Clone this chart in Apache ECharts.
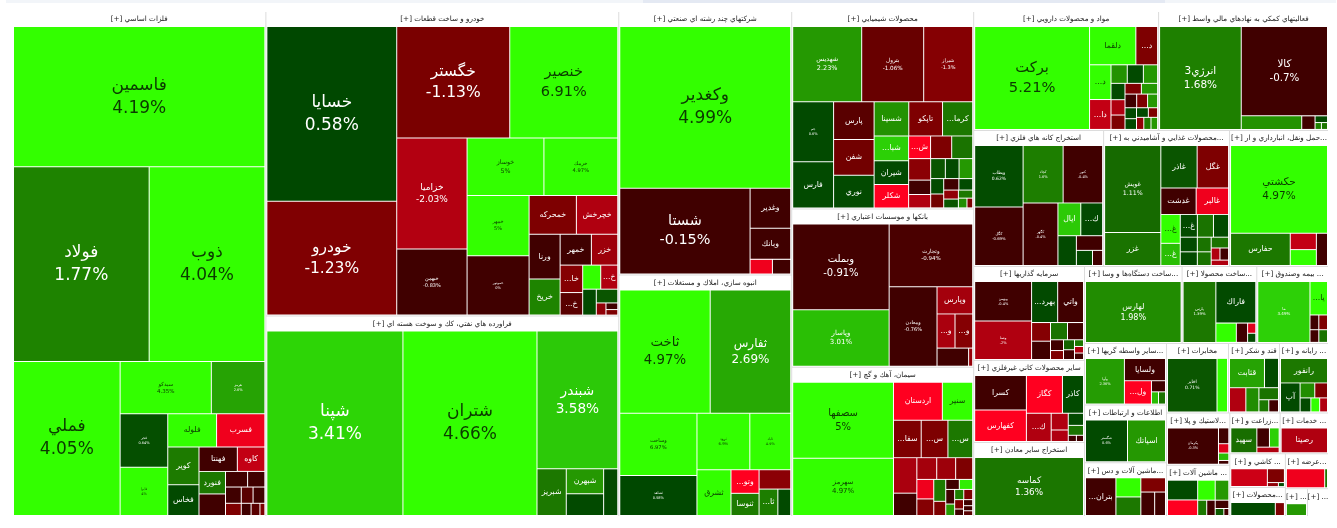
<!DOCTYPE html>
<html><head><meta charset="utf-8">
<style>html,body{margin:0;padding:0;background:#fff}#c{width:1337px;height:528px}</style>
<script src="https://cdn.jsdelivr.net/npm/echarts@6/dist/echarts.min.js"></script>
</head><body><div id="c"></div>
<script>
// Sector headers and footprint (relative area, header included)
const sectorNames = ['فلزات اساسي','خودرو و ساخت قطعات','فراورده هاي نفتي، كك و سوخت هسته اي','شركتهاي چند رشته اي صنعتي','انبوه سازي، املاك و مستغلات','محصولات شيميايي','بانكها و موسسات اعتباري','سيمان، آهك و گچ','مواد و محصولات دارويي','فعاليتهاي كمكي به نهادهاي مالي واسط','استخراج كانه هاي فلزي','...محصولات غذايي و آشاميدني به','...حمل ونقل، انبارداري و ار','سرمايه گذاريها','ساير محصولات كاني غيرفلزي','استخراج ساير معادن','...ساخت دستگاه‌ها و وسا','...ساخت محصولا','... بيمه وصندوق','...ساير واسطه گريها','اطلاعات و ارتباطات','...ماشين آلات و دس','مخابرات','قند و شكر','... رايانه و','...لاستيك و پلا','... ماشين آلات','...زراعت و','... خدمات','... كاشي و','...محصولات','...عرضه','...','...'];
const sectorValues = [127008,106704,70200,45236,41452,35657,28598,26969,21830,20060,17550,17010,13365,10340,9020,8140,7448,5700,5472,5022,4698,4374,4278,3519,3381,3286,3224,2040,1960,1870,1595,1496,609,580];

const metalsNames = ['فاسمين','فولاد','ذوب','فملي','سيدكو','هرمز','فجر','فايرا','فلوله','فسرب','كوير','فخاس','فهنتا','كاوه','فنورد','فمراد','','','','','','','','',''];
const metalsValues = [35280,26384,22504,16430,4784,2808,2538,2303,1617,1600,1178,961,936,672,598,572,345,270,256,192,192,192,120,108,60];
const metalsChanges = [4.19,1.77,4.04,4.05,4.35,2.6,0.64,4,4,-3,1.5,0.6,-0.4,-2.2,1.4,-0.3,-0.4,-0.4,-0.5,-0.7,-1,-1.2,-0.8,-1,-1.2];

const autoNames = ['خسايا','خودرو','خگستر','خنصير','خزاميا','خبهمن','خوساز','خريبك','خمهر','خموتور','خمحركه','خچرخش','ورنا','خريخ','خمهر','خزر','خا...','خ...','','خ...','','','','',''];
const autoValues = [22575,14706,12543,11988,7770,4620,4389,4218,3720,3660,1824,1596,1380,1116,960,810,616,506,432,408,351,294,117,78,65];
const autoChanges = [0.58,-1.23,-1.13,6.91,-2.03,-0.83,5,4.97,5,0,-1.2,-2,-0.4,1.8,-0.4,-1.7,-1.3,-1,4.5,-2,0.6,0.7,-1.5,-0.3,-1.2];

const oilNames = ['شپنا','شتران','شبندر','شبريز','شبهرن','شسپا',''];
const oilValues = [25024,24656,11097,1363,925,814,658];
const oilChanges = [3.41,4.66,3.58,1.4,2.2,0.6,0.6];

const multiNames = ['وكغدير','شستا','وغدير','وبانك','',''];
const multiValues = [27864,11266,1640,1271,330,270];
const multiChanges = [4.99,-0.15,-0.3,-0.4,-3,-0.4];

const buildNames = ['ثاخت','ثفارس','وساخت','ثشاهد','ثرود','ثاباد','ثشرق','وتو...','ثنوسا','ثمسكن','ثا...',''];
const buildValues = [11102,9882,4774,3080,2968,2296,1551,660,620,610,494,338];
const buildChanges = [4.97,2.69,6.97,0.58,6.9,4.9,4.9,-3.5,1.5,-1.4,1.6,0.6];

const chemNames = ['شهديس','بترول','شيراز','جم','فارس','پارس','شفن','نوري','شسينا','تاپكو','كرما...','شبا...','شيران','شكلر','ش...','','','قرن','','','و...','','','','','','','','','','',''];
const chemValues = [5037,4526,3577,2379,1833,1482,1404,1287,1150,1120,1000,830,800,780,483,465,462,460,308,286,285,266,264,195,176,169,154,128,126,112,81,54];
const chemChanges = [2.23,-1.06,-1.3,0.6,0.6,-1,-1.1,0.6,2.1,-1.2,1.4,3.3,0.6,-3.5,-3.5,-1.2,1.3,-1.4,-0.4,-2,0.7,0.6,2.2,0.6,-1.1,-0.3,0.6,-1.5,0.7,1.4,2,-1.2];

const bankNames = ['وبملت','وپاسار','وتجارت','ومعادن','وپارس','و...','و...','ونوين',''];
const bankValues = [8075,5320,5124,3713,945,600,590,558,72];
const bankChanges = [-0.91,3.01,-0.94,-0.76,-1.8,-1.9,-1.3,-0.4,-1.6];

const cementNames = ['سصفها','سهرمز','اردستان','سنير','سفا...','س...','س...','','','','','','','','','','','','','','','','','','','',''];
const cementValues = [7448,5586,1800,1116,1008,972,900,805,506,420,400,360,320,272,255,165,132,130,126,99,90,88,81,56,54,45,42];
const cementChanges = [5,4.97,-3.5,4.6,-1.2,-1.2,1.4,-1.9,-0.4,-1.8,-1.7,-1.2,-3,-1.3,1.5,-1.2,-0.4,3.8,-0.4,2.3,1.6,-1.2,-1.2,-0.4,-0.4,-0.4,-1];

const pharmaNames = ['بركت','دلقما','د...','د...','دا...','د...','د...','','','','','','','','','','','','','','','',''];
const pharmaValues = [11433,1715,805,720,620,292,289,255,221,208,195,170,168,154,144,132,122,120,110,86,85,84,77];
const pharmaChanges = [5.21,4.4,-1.2,4.2,-2.2,2.1,0.6,2.2,0.6,-2,-1.2,-1.2,2.2,-0.4,-1.2,2.2,0.6,0.6,0.6,-1.2,-1.5,1.6,2.2];

const finNames = ['انرژي3','كالا','','','','',''];
const finValues = [8446,7743,826,182,84,44,42];
const finChanges = [1.68,-0.7,2.1,-0.3,0.6,1.7,1.4];

const oreNames = ['وبطاب','كگل','كچاد','كنور','كگهر','ايال','ك...','','','',''];
const oreValues = [2928,2784,2260,2230,2142,736,704,540,378,240,150];
const oreChanges = [0.62,-0.69,1.6,-0.4,-0.4,3.2,0.6,0.6,-0.4,0.6,-0.4];

const foodNames = ['غويش','غزر','غاذر','غگل','غدشت','غالبر','غ...','غ...','غ...','','','','','','','','','',''];
const foodValues = [4698,1782,1480,1280,900,825,540,414,374,352,330,240,224,195,182,180,102,100,90];
const foodChanges = [1.11,1.3,0.7,-1.2,-0.4,-3,4.2,3,0.6,1.3,0.6,0.6,0.6,1.3,1.3,1.3,-2,-0.4,-2];

const transportNames = ['حكشتي','حفارس','','',''];
const transportValues = [8613,1947,432,420,363];
const transportChanges = [4.97,1.4,-2.2,4.3,-0.4];

const investNames = ['وبهمن','وصنا','بهرد...','واتي','و...','و...','','','','','','','','',''];
const investValues = [2090,2035,995,985,328,322,272,256,130,108,102,100,56,55,54];
const investChanges = [-0.4,-2,0.6,-0.4,-1.3,-0.4,1.3,-0.4,-0.4,-1.2,1,-0.4,1.4,-2,-0.4];

const mineralNames = ['كسرا','كفهارس','كگاز','كاذر','ك...','','','','','',''];
const mineralValues = [1700,1550,1296,756,667,272,187,176,144,48,42];
const mineralChanges = [-0.4,-3.5,-3.5,0.6,-2,-2,-2,0.6,1.3,-0.4,-0.4];

const otherMinesNames = ['كماسه'];
const otherMinesValues = [6270];
const otherMinesChanges = [1.36];

const deviceNames = ['لهارس'];
const deviceValues = [5880];
const deviceChanges = [1.98];

const productNames = ['پارس','فاراك','','','',''];
const productValues = [1920,1600,380,209,80,72];
const productChanges = [1.39,0.6,4.2,-0.4,-2.5,0.6];

const insuranceNames = ['ما','يا...','','','',''];
const insuranceValues = [3120,576,128,126,110,108];
const insuranceChanges = [3.49,4.3,-0.4,-1.2,-0.4,1.3];

const brokerNames = ['وآوا','ولسايا','ول...','','',''];
const brokerValues = [1748,902,621,154,85,84];
const brokerChanges = [2.36,-0.4,-3.5,-0.4,3,1.3];

const ictNames = ['شگستر','اسياتك'];
const ictValues = [1764,1596];
const ictChanges = [0.6,2.2];

const machinery1Names = ['بتران...','بكاب','بنيرو','','',''];
const machinery1Values = [1140,475,460,350,322,253];
const machinery1Changes = [-0.4,4,1.4,-1.2,-0.4,-0.5];

const telecomNames = ['اخابر',''];
const telecomValues = [2756,583];
const telecomChanges = [0.71,4];

const sugarNames = ['قثابت','','','','','',''];
const sugarValues = [972,390,375,300,224,114,112];
const sugarChanges = [2.6,0.6,-2,2,1.3,1.4,-0.4];

const computerNames = ['رانفور','آپ','','','','',''];
const computerValues = [1176,580,225,195,154,126,112];
const computerChanges = [1.4,0.6,2,-1.2,0.6,4,-2];

const rubberNames = ['پكرمان','','','',''];
const rubberValues = [1924,170,100,80,40];
const rubberChanges = [-0.3,-0.4,-2.5,3,-0.4];

const machinery2Names = ['وتو...','','','','','','','',''];
const machinery2Values = [551,435,324,252,128,120,105,56,32];
const machinery2Changes = [0.6,-3.5,4.2,2.2,1.4,-0.4,-0.4,0.8,-0.8];

const farmNames = ['سهيد','','',''];
const farmValues = [624,234,180,120];
const farmChanges = [1.2,-0.4,3.3,-2];

const servicesNames = ['رصيتا'];
const servicesValues = [1176];
const servicesChanges = [-2];

const tilesNames = ['كترام','','',''];
const tilesValues = [648,234,44,24];
const tilesChanges = [-2.3,-1.2,-1.5,0.6];

const productsNames = ['',''];
const productsValues = [572,117];
const productsChanges = [0.6,-1.2];

const supplyNames = ['ونيرو',''];
const supplyValues = [738,54];
const supplyChanges = [-3,1.4];

const lastANames = [''];
const lastAValues = [260];
const lastAChanges = [2.2];

const lastBNames = ['','',''];
const lastBValues = [130,68,66];
const lastBChanges = [null,null,null];

const sectorLeaves = [
  [metalsNames,metalsValues,metalsChanges],[autoNames,autoValues,autoChanges],[oilNames,oilValues,oilChanges],
  [multiNames,multiValues,multiChanges],[buildNames,buildValues,buildChanges],[chemNames,chemValues,chemChanges],
  [bankNames,bankValues,bankChanges],[cementNames,cementValues,cementChanges],[pharmaNames,pharmaValues,pharmaChanges],
  [finNames,finValues,finChanges],[oreNames,oreValues,oreChanges],[foodNames,foodValues,foodChanges],
  [transportNames,transportValues,transportChanges],[investNames,investValues,investChanges],[mineralNames,mineralValues,mineralChanges],
  [otherMinesNames,otherMinesValues,otherMinesChanges],[deviceNames,deviceValues,deviceChanges],[productNames,productValues,productChanges],
  [insuranceNames,insuranceValues,insuranceChanges],[brokerNames,brokerValues,brokerChanges],[ictNames,ictValues,ictChanges],
  [machinery1Names,machinery1Values,machinery1Changes],[telecomNames,telecomValues,telecomChanges],[sugarNames,sugarValues,sugarChanges],
  [computerNames,computerValues,computerChanges],[rubberNames,rubberValues,rubberChanges],[machinery2Names,machinery2Values,machinery2Changes],
  [farmNames,farmValues,farmChanges],[servicesNames,servicesValues,servicesChanges],[tilesNames,tilesValues,tilesChanges],
  [productsNames,productsValues,productsChanges],[supplyNames,supplyValues,supplyChanges],[lastANames,lastAValues,lastAChanges],[lastBNames,lastBValues,lastBChanges]
];

// Label type sizes: tiles that print the percentage too (style table, not data)
const pctLabelSizes = {'فاسمين':17,'فولاد':17,'ذوب':17,'فملي':17,'خسايا':17,'خودرو':15.5,'خگستر':15.5,'خنصير':14.5,'شپنا':17,'شتران':17,'شبندر':13.7,'وكغدير':17,'شستا':14.4,'ثاخت':13.3,'ثفارس':12,'بركت':14.7,'انرژي3':10.5,'كالا':10.3,'حكشتي':10.5,'وبملت':10,'سصفها':10,'خزاميا':9,'لهارس':8,'كماسه':8.8,'وپاسار':7,'سهرمز':7,'غويش':6.3,'شهديس':6.5,'بترول':5.7,'خوساز':6.3,'خريبك':5.2,'خمهر':5,'سيدكو':5.5,'هرمز':3.5,'فجر':3.5,'فايرا':3.5,'خبهمن':5,'خموتور':3.5,'وساخت':5.2,'ثشاهد':3.5,'ثرود':3.8,'ثاباد':3.5,'جم':3.5,'شيراز':5,'وتجارت':5.5,'ومعادن':5,'وبطاب':4.5,'كگل':3.8,'كچاد':3.5,'كنور':3.5,'كگهر':3.5,'وبهمن':3.5,'وصنا':3.5,'پارس':3.8,'ما':4,'وآوا':3.5,'شگستر':3.5,'اخابر':4.5,'پكرمان':3.5};
const doubles = {'خمهر':1}; // the second خمهر tile is a name-only label
const nameOnlySectors = {5:1}; // chemicals' پارس tile prints its name only

const anchors = [[5,[51,255,0]],[3.9,[51,255,0]],[3.6,[44,200,8]],[3.4,[45,214,6]],[3,[42,190,5]],[2.6,[38,163,4]],[2.2,[37,152,2]],[1.9,[31,135,0]],[1.4,[28,120,0]],[1,[20,100,0]],[0.7,[10,85,0]],[0.58,[0,72,0]],[0.01,[0,68,0]],[0,[64,0,0]],[-0.9,[64,0,0]],[-1.13,[122,0,0]],[-2,[176,0,16]],[-2.5,[224,0,26]],[-3.5,[255,0,32]]];
function tileColor(p){
  if(p===null) return '#ffffff';
  if(p>=anchors[0][0]) return 'rgb('+anchors[0][1].join(',')+')';
  for(let i=1;i<anchors.length;i++){
    const a=anchors[i-1],b=anchors[i];
    if(p>=b[0]){const t=(p-b[0])/(a[0]-b[0]);return 'rgb('+[0,1,2].map(k=>Math.round(b[1][k]+(a[1][k]-b[1][k])*t)).join(',')+')';}
  }
  return 'rgb('+anchors[anchors.length-1][1].join(',')+')';
}
const RLM='\u200f';
const sectorSeen={};
function leaf(name,value,change,sector){
  const seen=sectorSeen[name]; sectorSeen[name]=(seen||0)+1;
  const withPct = pctLabelSizes[name]!==undefined && !(doubles[name] && seen) && !(name==='پارس' && nameOnlySectors[sector]);
  const size = withPct ? pctLabelSizes[name] : 7.8;
  return {
    name:name,value:value,change:change,withPct:withPct,
    itemStyle:{color:tileColor(change),borderWidth:0},
    label:{show:name!=='',fontSize:size,lineHeight:Math.round(size*1.35),color:(change!==null&&change>=3.7)?'#0b3b00':'#ffffff'}
  };
}
const treeData = sectorNames.map((n,i)=>{
  const [ns,vs,cs]=sectorLeaves[i];
  return {name:n,value:sectorValues[i],children:ns.map((nm,j)=>leaf(nm,vs[j],cs[j],i))};
});

const chart = echarts.init(document.getElementById('c'),null,{renderer:'canvas'});
chart.setOption({
  backgroundColor:'#fff',animation:false,
  tooltip:{show:false},
  graphic:[
    {type:'rect',shape:{x:6,y:0,width:1330,height:3},style:{fill:'#f2f5f9'},silent:true},
    {type:'rect',shape:{x:643,y:0,width:522,height:3},style:{fill:'#e4e9f3'},silent:true}
  ],
  series:[{
    type:'treemap',left:13,top:12,width:1315,height:504,
    roam:false,nodeClick:false,breadcrumb:{show:false},
    squareRatio:1,visibleMin:0,childrenVisibleMin:0,
    label:{show:true,position:'inside',align:'center',verticalAlign:'middle',overflow:'none',fontFamily:'DejaVu Sans',
      formatter:p=>{const d=p.data;if(!d.name)return '';return d.withPct?RLM+d.name+RLM+'\n'+d.change+'%':RLM+d.name+RLM;}},
    upperLabel:{show:false},
    levels:[
      {itemStyle:{borderWidth:0,gapWidth:1,borderColor:'#dcdcdc'},upperLabel:{show:false}},
      {itemStyle:{borderWidth:1,gapWidth:1,borderColor:'#ffffff',color:'#fff'},
       upperLabel:{show:true,height:15,position:'inside',align:'center',verticalAlign:'middle',color:'#222',fontSize:7.2,fontFamily:'DejaVu Sans',overflow:'none',
         formatter:p=>RLM+p.name+' [+]'+RLM}},
      {itemStyle:{borderWidth:0}}
    ],
    data:treeData
  }]
});
</script></body></html>
